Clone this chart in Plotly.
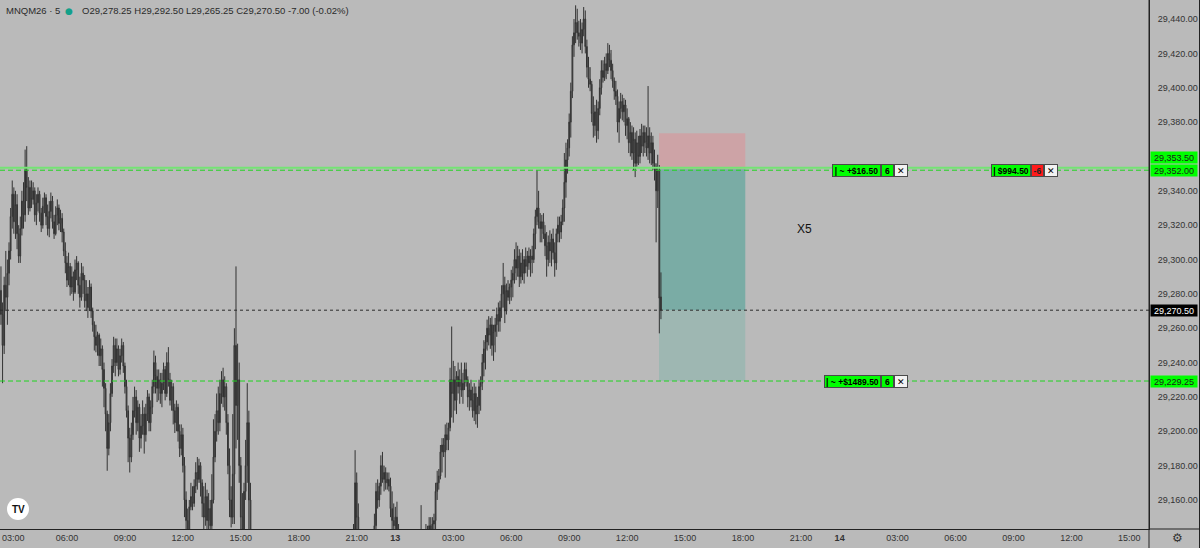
import pandas as pd
import plotly.graph_objects as go

SYMBOL = "MNQM26"
INTERVAL = "5"

# 5-minute bar timestamps. Bars between 16:00 and 20:40 on the 12th lie entirely
# below the visible price window, so they are not part of this view.
times = list(pd.date_range("2026-05-12 02:35", "2026-05-12 15:55", freq="5min")) + [
    t for t in pd.date_range("2026-05-12 20:45", "2026-05-13 13:45", freq="5min") if t.hour != 21
]

opens = [
    29282, 29268, 29250, 29285, 29278,
    29292, 29305, 29325, 29338, 29322, 29332, 29315, 29302, 29318, 29334, 29326, 29352,
    29342, 29330, 29342, 29335, 29340, 29326, 29333, 29338, 29327, 29320, 29331, 29336,
    29325, 29318, 29328, 29334, 29322, 29315, 29326, 29330, 29321, 29324, 29316, 29305,
    29298, 29288, 29296, 29284, 29290, 29281, 29294, 29298, 29285, 29278, 29292, 29288,
    29276, 29280, 29272, 29284, 29270, 29262, 29255, 29250, 29256, 29244, 29248, 29236,
    29225, 29210, 29190, 29205, 29222, 29238, 29250, 29240, 29248, 29236, 29244, 29250,
    29238, 29226, 29212, 29196, 29185, 29198, 29212, 29220, 29205, 29214, 29196, 29203,
    29210, 29198, 29210, 29220, 29205, 29214, 29226, 29240, 29232, 29225, 29230, 29222,
    29228, 29236, 29222, 29240, 29230, 29218, 29226, 29212, 29205, 29214, 29200, 29190,
    29198, 29180, 29160, 29148, 29140, 29156, 29162, 29158, 29168, 29176, 29172, 29180,
    29170, 29158, 29150, 29162, 29148, 29155, 29145, 29160, 29185, 29200, 29212, 29205,
    29222, 29230, 29220, 29226, 29205, 29180, 29160, 29150, 29175, 29250, 29215, 29230,
    29180, 29150, 29140, 29165, 29180, 29205, 29160, 29130, 29125, 29118, 29122, 29115,
    29120, 29135, 29140,
    29170, 29150, 29138, 29126, 29130, 29128, 29120, 29125, 29132, 29128, 29136, 29138,
    29145, 29165, 29160, 29168, 29180, 29172, 29176, 29170, 29172, 29168, 29155, 29148,
    29145, 29150, 29140, 29130, 29122, 29115, 29120, 29128, 29124, 29118, 29122, 29130,
    29126, 29128, 29132, 29130, 29135, 29140, 29132, 29136, 29140, 29134, 29145, 29142,
    29146, 29148, 29165, 29170, 29174, 29188, 29192, 29188, 29198, 29195, 29202, 29230,
    29222, 29230, 29218, 29232, 29226, 29230, 29224, 29228, 29236, 29230, 29220, 29224,
    29218, 29212, 29222, 29210, 29215, 29226, 29228, 29240, 29248, 29252, 29260, 29256,
    29262, 29250, 29258, 29262, 29268, 29264, 29272, 29280, 29285, 29270, 29282, 29278,
    29284, 29288, 29292, 29300, 29295, 29302, 29290, 29298, 29292, 29300, 29296, 29302,
    29298, 29302, 29300, 29315, 29325, 29330, 29322, 29318, 29322, 29315, 29308, 29300,
    29310, 29305, 29312, 29304, 29298, 29315, 29320, 29316, 29322, 29330, 29345, 29358,
    29365, 29380, 29398, 29425, 29432, 29438, 29432, 29430, 29426, 29434, 29440, 29424,
    29412, 29405, 29402, 29385, 29378, 29386, 29375, 29388, 29400, 29410, 29406, 29414,
    29410, 29420, 29416, 29410, 29404, 29398, 29395, 29380, 29388, 29392, 29386, 29390,
    29378, 29382, 29368, 29374, 29362, 29370, 29356, 29368, 29360, 29372, 29366, 29374,
    29368, 29365, 29372, 29362, 29368, 29356, 29354, 29340, 29352, 29278.25,
]
highs = [
    29296, 29275, 29290, 29305, 29300,
    29310, 29330, 29346, 29342, 29340, 29338, 29320, 29325, 29340, 29345, 29364, 29366,
    29348, 29346, 29346, 29345, 29342, 29338, 29342, 29340, 29330, 29336, 29339, 29338,
    29332, 29334, 29339, 29337, 29326, 29331, 29335, 29332, 29329, 29327, 29318, 29310,
    29302, 29304, 29298, 29296, 29293, 29300, 29302, 29299, 29290, 29298, 29296, 29291,
    29288, 29284, 29288, 29286, 29272, 29264, 29262, 29258, 29257, 29254, 29250, 29240,
    29228, 29212, 29210, 29228, 29242, 29255, 29254, 29254, 29250, 29248, 29254, 29252,
    29240, 29230, 29215, 29202, 29205, 29220, 29226, 29224, 29218, 29216, 29210, 29218,
    29214, 29216, 29224, 29222, 29218, 29230, 29247, 29244, 29236, 29236, 29234, 29234,
    29240, 29238, 29246, 29249, 29234, 29230, 29228, 29216, 29218, 29216, 29204, 29204,
    29202, 29185, 29165, 29155, 29160, 29170, 29168, 29172, 29182, 29185, 29184, 29182,
    29172, 29168, 29170, 29166, 29164, 29160, 29175, 29207, 29210, 29222, 29226, 29230,
    29235, 29237, 29232, 29228, 29210, 29190, 29168, 29210, 29260, 29296, 29251, 29240,
    29185, 29164, 29170, 29195, 29228, 29212, 29170, 29138, 29132, 29130, 29128, 29124,
    29142, 29146, 29189,
    29176, 29158, 29142, 29136, 29138, 29134, 29132, 29138, 29140, 29141, 29142, 29152,
    29170, 29172, 29170, 29186, 29188, 29180, 29179, 29176, 29176, 29173, 29165, 29158,
    29156, 29159, 29146, 29138, 29130, 29126, 29132, 29136, 29130, 29128, 29134, 29138,
    29135, 29138, 29140, 29141, 29157, 29142, 29140, 29146, 29145, 29150, 29150, 29150,
    29152, 29170, 29177, 29178, 29192, 29196, 29196, 29204, 29205, 29205, 29237, 29261,
    29241, 29238, 29235, 29240, 29236, 29240, 29234, 29240, 29240, 29232, 29228, 29230,
    29226, 29228, 29226, 29220, 29230, 29232, 29245, 29253, 29256, 29265, 29267, 29266,
    29267, 29262, 29266, 29272, 29275, 29276, 29285, 29298, 29290, 29286, 29288, 29286,
    29294, 29296, 29306, 29310, 29308, 29306, 29304, 29306, 29302, 29307, 29305, 29307,
    29306, 29308, 29318, 29329, 29352, 29340, 29327, 29326, 29327, 29320, 29316, 29314,
    29317, 29315, 29318, 29310, 29318, 29325, 29325, 29326, 29335, 29362, 29368, 29370,
    29385, 29403, 29430, 29440, 29448, 29446, 29439, 29440, 29438, 29447, 29445, 29428,
    29418, 29412, 29404, 29395, 29390, 29393, 29392, 29405, 29416, 29416, 29418, 29420,
    29426, 29425, 29422, 29414, 29406, 29404, 29399, 29392, 29397, 29396, 29394, 29393,
    29388, 29383, 29380, 29378, 29377, 29374, 29375, 29372, 29376, 29379, 29378, 29378,
    29377, 29401, 29377, 29374, 29372, 29364, 29356, 29361, 29355, 29292.50,
]
lows = [
    29262, 29228, 29245, 29270, 29262,
    29285, 29300, 29318, 29315, 29312, 29306, 29298, 29298, 29314, 29318, 29322, 29334,
    29326, 29328, 29330, 29332, 29322, 29320, 29328, 29322, 29316, 29318, 29327, 29320,
    29314, 29313, 29324, 29318, 29312, 29314, 29320, 29317, 29316, 29310, 29302, 29292,
    29284, 29285, 29279, 29280, 29276, 29280, 29288, 29280, 29272, 29276, 29280, 29272,
    29270, 29266, 29270, 29266, 29258, 29247, 29246, 29244, 29238, 29238, 29226, 29214,
    29200, 29177, 29186, 29200, 29220, 29234, 29232, 29238, 29232, 29233, 29240, 29234,
    29222, 29208, 29182, 29176, 29182, 29195, 29208, 29198, 29200, 29188, 29190, 29198,
    29187, 29194, 29206, 29200, 29200, 29210, 29222, 29222, 29217, 29218, 29216, 29214,
    29224, 29218, 29220, 29226, 29215, 29212, 29204, 29199, 29200, 29194, 29185, 29186,
    29176, 29150, 29138, 29130, 29138, 29154, 29154, 29156, 29164, 29166, 29170, 29162,
    29150, 29138, 29145, 29136, 29140, 29132, 29140, 29158, 29182, 29194, 29198, 29200,
    29216, 29214, 29212, 29198, 29175, 29150, 29144, 29146, 29146, 29190, 29195, 29170,
    29140, 29128, 29135, 29160, 29170, 29140, 29122, 29115, 29110, 29112, 29108, 29102,
    29112, 29125, 29130,
    29140, 29130, 29120, 29118, 29122, 29115, 29112, 29120, 29124, 29122, 29128, 29132,
    29140, 29155, 29156, 29163, 29170, 29165, 29166, 29166, 29165, 29150, 29140, 29138,
    29132, 29135, 29125, 29118, 29110, 29108, 29114, 29120, 29112, 29110, 29116, 29122,
    29118, 29120, 29124, 29122, 29130, 29126, 29124, 29130, 29128, 29130, 29136, 29135,
    29136, 29140, 29160, 29166, 29172, 29176, 29185, 29173, 29189, 29189, 29200, 29208,
    29205, 29212, 29210, 29222, 29216, 29220, 29216, 29224, 29226, 29214, 29212, 29214,
    29208, 29206, 29204, 29202, 29210, 29212, 29224, 29232, 29236, 29247, 29250, 29248,
    29244, 29241, 29246, 29255, 29258, 29258, 29266, 29272, 29263, 29268, 29276, 29274,
    29276, 29278, 29286, 29288, 29290, 29284, 29286, 29288, 29286, 29292, 29290, 29294,
    29290, 29292, 29298, 29306, 29320, 29318, 29310, 29310, 29312, 29302, 29290, 29296,
    29298, 29296, 29300, 29290, 29294, 29310, 29310, 29312, 29320, 29322, 29336, 29350,
    29360, 29371, 29394, 29418, 29426, 29428, 29424, 29422, 29420, 29430, 29420, 29406,
    29400, 29398, 29380, 29371, 29372, 29368, 29370, 29384, 29396, 29403, 29404, 29405,
    29408, 29412, 29405, 29400, 29393, 29390, 29374, 29368, 29382, 29381, 29380, 29372,
    29370, 29362, 29360, 29358, 29352, 29348, 29354, 29355, 29356, 29362, 29360, 29362,
    29360, 29358, 29356, 29355, 29352, 29346, 29310, 29330, 29257, 29265.25,
]
closes = [
    29268, 29250, 29285, 29278, 29292,
    29305, 29325, 29338, 29322, 29332, 29315, 29302, 29318, 29334, 29326, 29352, 29342,
    29330, 29342, 29335, 29340, 29326, 29333, 29338, 29327, 29320, 29331, 29336, 29325,
    29318, 29328, 29334, 29322, 29315, 29326, 29330, 29321, 29324, 29316, 29305, 29298,
    29288, 29296, 29284, 29290, 29281, 29294, 29298, 29285, 29278, 29292, 29288, 29276,
    29280, 29272, 29284, 29270, 29262, 29255, 29250, 29256, 29244, 29248, 29236, 29225,
    29210, 29190, 29205, 29222, 29238, 29250, 29240, 29248, 29236, 29244, 29250, 29238,
    29226, 29212, 29196, 29185, 29198, 29212, 29220, 29205, 29214, 29196, 29203, 29210,
    29198, 29210, 29220, 29205, 29214, 29226, 29240, 29232, 29225, 29230, 29222, 29228,
    29236, 29222, 29240, 29230, 29218, 29226, 29212, 29205, 29214, 29200, 29190, 29198,
    29180, 29160, 29148, 29140, 29156, 29162, 29158, 29168, 29176, 29172, 29180, 29170,
    29158, 29150, 29162, 29148, 29155, 29145, 29160, 29185, 29200, 29212, 29205, 29222,
    29230, 29220, 29226, 29205, 29180, 29160, 29150, 29175, 29250, 29215, 29230, 29180,
    29150, 29140, 29165, 29180, 29205, 29160, 29130, 29125, 29118, 29122, 29115, 29110,
    29135, 29140, 29170,
    29150, 29138, 29126, 29130, 29128, 29120, 29125, 29132, 29128, 29136, 29138, 29145,
    29165, 29160, 29168, 29180, 29172, 29176, 29170, 29172, 29168, 29155, 29148, 29145,
    29150, 29140, 29130, 29122, 29115, 29120, 29128, 29124, 29118, 29122, 29130, 29126,
    29128, 29132, 29130, 29135, 29140, 29132, 29136, 29140, 29134, 29145, 29142, 29146,
    29148, 29165, 29170, 29174, 29188, 29192, 29188, 29198, 29195, 29202, 29230, 29222,
    29230, 29218, 29232, 29226, 29230, 29224, 29228, 29236, 29230, 29220, 29224, 29218,
    29212, 29222, 29210, 29215, 29226, 29228, 29240, 29248, 29252, 29260, 29256, 29262,
    29250, 29258, 29262, 29268, 29264, 29272, 29280, 29285, 29270, 29282, 29278, 29284,
    29288, 29292, 29300, 29295, 29302, 29290, 29298, 29292, 29300, 29296, 29302, 29298,
    29302, 29300, 29315, 29325, 29330, 29322, 29318, 29322, 29315, 29308, 29300, 29310,
    29305, 29312, 29304, 29298, 29315, 29320, 29316, 29322, 29330, 29345, 29358, 29365,
    29380, 29398, 29425, 29432, 29438, 29432, 29430, 29426, 29434, 29440, 29424, 29412,
    29405, 29402, 29385, 29378, 29386, 29375, 29388, 29400, 29410, 29406, 29414, 29410,
    29420, 29416, 29410, 29404, 29398, 29395, 29380, 29388, 29392, 29386, 29390, 29378,
    29382, 29368, 29374, 29362, 29370, 29356, 29368, 29360, 29372, 29366, 29374, 29368,
    29365, 29372, 29362, 29368, 29356, 29354, 29340, 29352, 29277.50, 29270.50,
]

# Trading levels
position_price = 29353.50   # open short position (-6), +$994.50
stop_price = 29352.00       # stop order, ~ +$16.50
target_price = 29229.25     # target order, ~ +$1489.50
position_qty = -6
position_pnl = "$994.50"
stop_pnl = "~ +$16.50"
target_pnl = "~ +$1489.50"
tool_stop = 29373.50
tool_entry = 29352.50
tool_start = "2026-05-13 13:39"
tool_end = "2026-05-13 18:07"
note_text = "X5"

# 29,360 is hidden behind the order price labels in the reference
y_ticks = [29160, 29180, 29200, 29220, 29240, 29260, 29280, 29300,
           29320, 29340, 29380, 29400, 29420, 29440]
x_tickvals = [
    "2026-05-12 03:00", "2026-05-12 06:00", "2026-05-12 09:00", "2026-05-12 12:00",
    "2026-05-12 15:00", "2026-05-12 18:00", "2026-05-12 20:59:59",
    "2026-05-13 00:00", "2026-05-13 03:00", "2026-05-13 06:00", "2026-05-13 09:00",
    "2026-05-13 12:00", "2026-05-13 15:00", "2026-05-13 18:00", "2026-05-13 20:59:59",
    "2026-05-14 00:00", "2026-05-14 03:00", "2026-05-14 06:00", "2026-05-14 09:00",
    "2026-05-14 12:00", "2026-05-14 15:00",
]
x_ticktext = [
    "03:00", "06:00", "09:00", "12:00", "15:00", "18:00", "21:00",
    "<b>13</b>", "03:00", "06:00", "09:00", "12:00", "15:00", "18:00", "21:00",
    "<b>14</b>", "03:00", "06:00", "09:00", "12:00", "15:00",
]

# ---------------- layout geometry (pixels) ----------------
W, H = 1200, 548
ML, MR, MT, MB = 0, 51, 0, 19
PW, PH = W - ML - MR, H - MT - MB
BG = "#bababa"
FONT = "Liberation Sans"


def px(x):
    return x / PW


def py(y):
    return 1 - y / PH


fig = go.Figure()
fig.add_trace(go.Candlestick(
    x=times, open=opens, high=highs, low=lows, close=closes,
    increasing=dict(line=dict(color="#333333", width=1), fillcolor="#6c6c6c"),
    decreasing=dict(line=dict(color="#333333", width=1), fillcolor="#6c6c6c"),
    whiskerwidth=0, hoverinfo="skip", showlegend=False,
))

shapes = []
# position tool
shapes.append(dict(type="rect", xref="x", yref="y", x0=tool_start, x1=tool_end,
                   y0=tool_entry, y1=tool_stop, fillcolor="#cda3a6", line=dict(width=0), layer="below"))
shapes.append(dict(type="rect", xref="x", yref="y", x0=tool_start, x1=tool_end,
                   y0=closes[-1], y1=tool_entry, fillcolor="#7aaca5", line=dict(width=0), layer="below"))
shapes.append(dict(type="rect", xref="x", yref="y", x0=tool_start, x1=tool_end,
                   y0=target_price, y1=closes[-1], fillcolor="#9eb7b2", line=dict(width=0), layer="below"))
# price lines
shapes.append(dict(type="line", xref="paper", yref="y", x0=0, x1=1, y0=closes[-1], y1=closes[-1],
                   line=dict(color="#2a2a2a", width=1, dash="dot"), layer="above"))
shapes.append(dict(type="line", xref="paper", yref="y", x0=0, x1=1, y0=position_price, y1=position_price,
                   line=dict(color="#74e474", width=2), layer="above"))
shapes.append(dict(type="line", xref="paper", yref="y", x0=0, x1=1, y0=stop_price, y1=stop_price,
                   line=dict(color="#1fd41f", width=1, dash="5px,3px"), layer="above"))
shapes.append(dict(type="line", xref="paper", yref="y", x0=0, x1=1, y0=target_price, y1=target_price,
                   line=dict(color="#1fd41f", width=1, dash="5px,3px"), layer="above"))
# frame lines
shapes.append(dict(type="line", xref="paper", yref="paper", x0=1, x1=1, y0=py(H), y1=1,
                   line=dict(color="#222", width=1)))
shapes.append(dict(type="line", xref="paper", yref="paper", x0=px(W - 0.5), x1=px(W - 0.5), y0=py(H), y1=1,
                   line=dict(color="#222", width=1)))
shapes.append(dict(type="line", xref="paper", yref="paper", x0=1, x1=px(W), y0=0, y1=0,
                   line=dict(color="#222", width=1)))
# logo badge
shapes.append(dict(type="circle", xref="paper", yref="paper", x0=px(7), x1=px(29), y0=py(520), y1=py(498),
                   fillcolor="white", line=dict(width=0)))

annotations = []
# header
annotations.append(dict(xref="paper", yref="paper", x=px(4), y=py(11), xanchor="left", yanchor="middle",
                        text=f"{SYMBOL} · {INTERVAL}", showarrow=False,
                        font=dict(size=9.5, color="#2a2a2a", family=FONT)))
annotations.append(dict(xref="paper", yref="paper", x=px(69), y=py(11), xanchor="center", yanchor="middle",
                        text="●", showarrow=False, font=dict(size=9, color="#13a08a", family="DejaVu Sans")))
chg = closes[-1] - closes[-2]
pct = chg / closes[-2] * 100
annotations.append(dict(xref="paper", yref="paper", x=px(80), y=py(11), xanchor="left", yanchor="middle",
                        text=f"O{opens[-1]:,.2f} H{highs[-1]:,.2f} L{lows[-1]:,.2f} C{closes[-1]:,.2f} "
                             f"{chg:.2f} ({pct:.2f}%)",
                        showarrow=False, font=dict(size=9.5, color="#2a2a2a", family=FONT)))
# note
annotations.append(dict(xref="paper", yref="paper", x=px(804), y=py(229), xanchor="center", yanchor="middle",
                        text=note_text, showarrow=False, font=dict(size=12, color="#111", family=FONT)))


def box(x0, w, price, text, bg, fg="#000", bold=True, size=8.5):
    annotations.append(dict(
        xref="paper", yref="y", x=px(x0), y=price, xanchor="left", yanchor="middle",
        text=f"<b>{text}</b>" if bold else text, showarrow=False,
        bgcolor=bg, bordercolor="#4a4a4a", borderwidth=1, borderpad=0,
        width=w - 2, height=11, align="center",
        font=dict(size=size, color=fg, family=FONT)))


# order / position labels
box(832, 49, stop_price, "| " + stop_pnl, "#00ff00")
box(881, 13, stop_price, str(abs(position_qty)), "#00ff00")
box(894, 14, stop_price, "✕", "#f2f2f2", bold=False, size=9)
box(991, 40, stop_price, "| " + position_pnl, "#00ff00")
box(1031, 13, stop_price, str(position_qty), "#ff1a1a", fg="#222")
box(1044, 14, stop_price, "✕", "#f2f2f2", bold=False, size=9)
box(824, 57, target_price, "| " + target_pnl, "#00ff00")
box(881, 13, target_price, str(abs(position_qty)), "#00ff00")
box(894, 14, target_price, "✕", "#f2f2f2", bold=False, size=9)


def axis_label(price, bg, fg, yshift=0):
    annotations.append(dict(
        xref="paper", yref="y", x=1 + px(1), y=price, xanchor="left", yanchor="middle",
        yshift=yshift, text=f"{price:,.2f}", showarrow=False, bgcolor=bg,
        borderpad=0, width=46, height=11, align="center",
        font=dict(size=9, color=fg, family=FONT)))


axis_label(position_price, "#00ff00", "#1a1a1a", yshift=10)
axis_label(stop_price, "#00ff00", "#1a1a1a")
axis_label(closes[-1], "#000000", "#ffffff")
axis_label(target_price, "#00ff00", "#1a1a1a")

# the first time label sits at the very left edge, so it is anchored to the edge
annotations.append(dict(xref="paper", yref="paper", x=0, y=py(538), xanchor="left", yanchor="middle",
                        text=x_ticktext[0], showarrow=False, font=dict(size=9, color="#333", family=FONT)))

# logo text and settings glyph
annotations.append(dict(xref="paper", yref="paper", x=px(18), y=py(509), xanchor="center", yanchor="middle",
                        text="<b>TV</b>", showarrow=False, font=dict(size=10, color="#111", family=FONT)))
annotations.append(dict(xref="paper", yref="paper", x=px(1177), y=py(538), xanchor="center", yanchor="middle",
                        text="⚙", showarrow=False, font=dict(size=12, color="#333", family="DejaVu Sans")))

fig.update_layout(
    width=W, height=H, autosize=False,
    margin=dict(l=ML, r=MR, t=MT, b=MB, pad=0),
    paper_bgcolor=BG, plot_bgcolor=BG,
    font=dict(family=FONT, size=9, color="#333"),
    shapes=shapes, annotations=annotations,
    showlegend=False,
    xaxis=dict(
        type="date",
        range=["2026-05-12 02:32", "2026-05-14 16:01"],
        rangebreaks=[dict(bounds=[21, 22], pattern="hour")],
        rangeslider=dict(visible=False),
        tickvals=x_tickvals[1:], ticktext=x_ticktext[1:],
        showgrid=False, zeroline=False, ticks="",
        showline=True, linecolor="#222", linewidth=1,
        tickfont=dict(size=9, color="#333", family=FONT),
        fixedrange=True,
    ),
    yaxis=dict(
        side="right",
        range=[29143.1, 29451.1],
        tickvals=y_ticks, ticktext=[f"{v:,.2f}" for v in y_ticks],
        showgrid=False, zeroline=False, ticks="",
        showline=True, linecolor="#222", linewidth=1,
        ticklabelstandoff=6,
        tickfont=dict(size=9, color="#333", family=FONT),
        fixedrange=True,
    ),
)

fig.write_html("out.html")
